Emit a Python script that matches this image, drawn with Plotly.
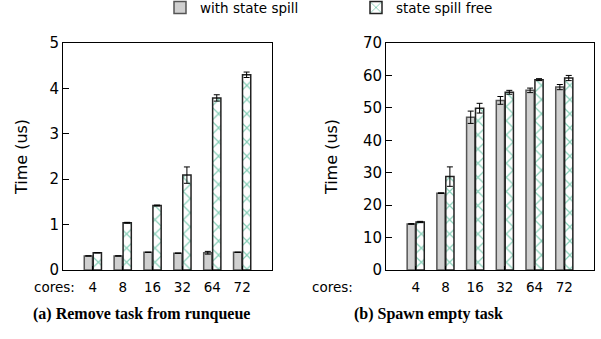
import plotly.graph_objects as go

cores = ["4", "8", "16", "32", "64", "72"]
series_names = ["with state spill", "state spill free"]

# (a) Remove task from runqueue
a_spill = [0.31, 0.31, 0.39, 0.37, 0.38, 0.39]
a_spill_err = [0.0, 0.0, 0.0, 0.0, 0.03, 0.0]
a_free = [0.38, 1.04, 1.42, 2.09, 3.79, 4.30]
a_free_err = [0.0, 0.01, 0.01, 0.18, 0.07, 0.06]

# (b) Spawn empty task
b_spill = [14.2, 23.7, 47.1, 52.3, 55.4, 56.4]
b_spill_err = [0.1, 0.1, 1.9, 1.2, 0.7, 0.8]
b_free = [14.8, 28.8, 49.9, 54.8, 58.7, 59.2]
b_free_err = [0.2, 3.0, 1.5, 0.6, 0.3, 0.8]

captions = ["(a) Remove task from runqueue", "(b) Spawn empty task"]

GREEN = "#0f9e70"
W, H = 601, 339
xpos = list(range(len(cores)))

def px(x):
    return x / W

def py(y):
    return (H - y) / H

fig = go.Figure()

def add_panel(spill, spill_err, free, free_err, xa, ya, show):
    fig.add_trace(go.Bar(
        x=xpos, y=spill, name=series_names[0], showlegend=show, legendgroup="s",
        marker=dict(color="#d0d0d0", line=dict(color="#555555", width=1.5)),
        error_y=dict(type="data", array=spill_err, color="black", thickness=1, width=3),
        xaxis=xa, yaxis=ya))
    fig.add_trace(go.Bar(
        x=xpos, y=free, name=series_names[1], showlegend=show, legendgroup="f",
        marker=dict(color="white", line=dict(color="#222222", width=1.5),
                    pattern=dict(shape="x", fgcolor=GREEN, bgcolor="white", size=10, solidity=0.22)),
        error_y=dict(type="data", array=free_err, color="black", thickness=1, width=3),
        xaxis=xa, yaxis=ya))

add_panel(a_spill, a_spill_err, a_free, a_free_err, "x", "y", True)
add_panel(b_spill, b_spill_err, b_free, b_free_err, "x2", "y2", False)

ydom = [py(270), py(43)]
axis_common = dict(showline=True, linecolor="black", linewidth=1, mirror=True,
                   showgrid=False, zeroline=False, automargin=False)
xcommon = dict(axis_common, range=[-1, 6], tickvals=xpos, ticktext=cores,
               ticks="inside", ticklen=4, tickcolor="black", ticklabelstandoff=5,
               tickfont=dict(family="DejaVu Sans", size=13.5, color="black"))
ycommon = dict(axis_common, ticks="inside", ticklen=6, tickcolor="black",
               tickfont=dict(family="DejaVu Sans", size=15, color="black"))
ytitle_font = dict(family="DejaVu Sans", size=16, color="black")

fig.update_layout(
    xaxis=dict(xcommon, domain=[px(63), px(272)], anchor="y"),
    yaxis=dict(ycommon, domain=ydom, range=[0, 5], dtick=1, anchor="x",
               title=dict(text="Time (us)", font=ytitle_font, standoff=17)),
    xaxis2=dict(xcommon, domain=[px(386), px(594)], anchor="y2"),
    yaxis2=dict(ycommon, domain=ydom, range=[0, 70], dtick=10, anchor="x2",
                title=dict(text="Time (us)", font=ytitle_font, standoff=21)),
    barmode="group", bargap=0.4, bargroupgap=0.08,
    width=W, height=H, margin=dict(l=0, r=0, t=0, b=0, autoexpand=False),
    plot_bgcolor="white", paper_bgcolor="white",
    legend=dict(orientation="h", x=px(160), y=1.023, xanchor="left", yanchor="top",
                entrywidth=151, entrywidthmode="pixels", borderwidth=0,
                font=dict(family="DejaVu Sans", size=13.5, color="black"),
                bgcolor="rgba(0,0,0,0)"),
    annotations=[
        dict(text="cores:", xref="paper", yref="paper", x=px(54), y=py(287), xanchor="center", yanchor="middle",
             showarrow=False, font=dict(family="DejaVu Sans", size=13.5, color="black")),
        dict(text="cores:", xref="paper", yref="paper", x=px(332), y=py(287), xanchor="center", yanchor="middle",
             showarrow=False, font=dict(family="DejaVu Sans", size=13.5, color="black")),
        dict(text="<b>" + captions[0] + "</b>", xref="paper", yref="paper", x=px(141), y=py(314),
             xanchor="center", yanchor="middle",
             showarrow=False, font=dict(family="Liberation Serif", size=16, color="black")),
        dict(text="<b>" + captions[1] + "</b>", xref="paper", yref="paper", x=px(428), y=py(314),
             xanchor="center", yanchor="middle",
             showarrow=False, font=dict(family="Liberation Serif", size=16, color="black")),
    ],
)

fig.write_html("out.html", config={"displayModeBar": False},
               post_script="document.body.style.margin='0';")
